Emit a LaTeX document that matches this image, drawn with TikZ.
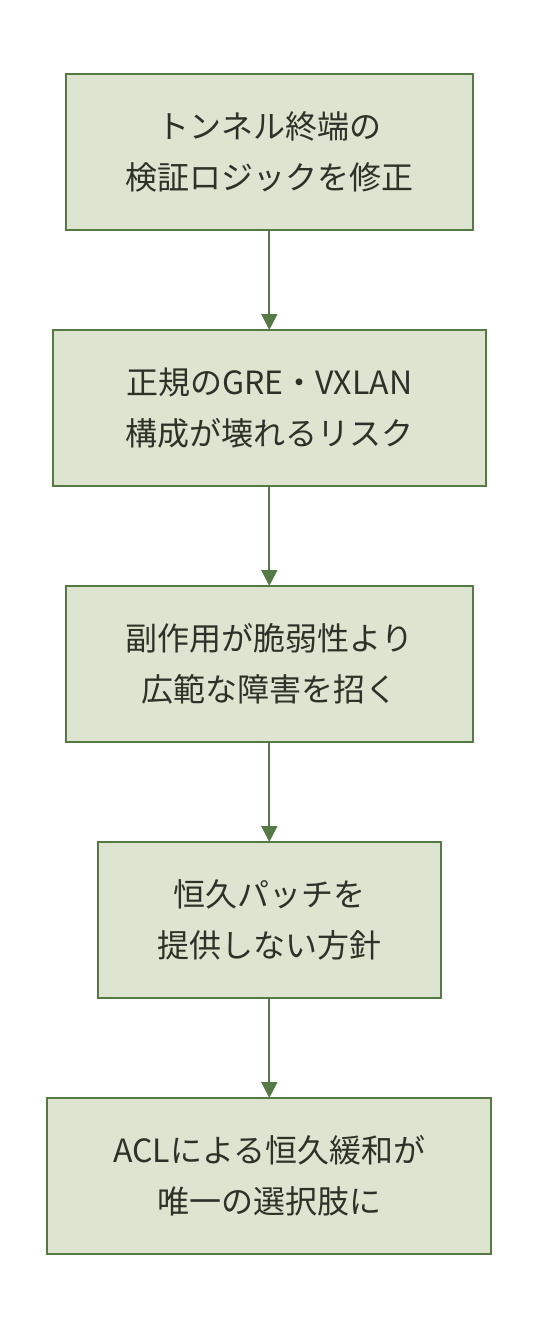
\documentclass[tikz,border=0pt]{standalone}
\usepackage{fontspec}
\setmainfont{Noto Sans CJK JP}
\usepackage{xcolor}
\definecolor{BoxFill}{RGB}{221, 229, 208}
\definecolor{BoxLine}{RGB}{85, 122, 70}
\definecolor{BoxText}{RGB}{44, 50, 40}
\usetikzlibrary{arrows.meta, positioning}

\begin{document}
\begin{tikzpicture}[
		node distance=75pt,
		base/.style={
			rectangle, draw=BoxLine, fill=BoxFill, line width=1.5pt, outer sep=0pt,
			minimum height=117pt, align=center, inner sep=6pt,
			text=BoxText, font=\fontsize{24pt}{38pt}\selectfont
		},
		arrow/.style={-{Triangle[length=12pt, width=12pt]}, line width=1.5pt, BoxLine}
		]
		\useasboundingbox (0,0) rectangle (405pt,-999pt);
		
		\node[base, minimum width=305pt] (fix) at (202pt,-114pt) {トンネル終端の\\検証ロジックを修正};
		\node[base, minimum width=325pt] (risk) [below=of fix] {正規のGRE・VXLAN\\構成が壊れるリスク};
		\node[base, minimum width=305pt] (side) [below=of risk] {副作用が脆弱性より\\広範な障害を招く};
		\node[base, minimum width=257pt] (policy) [below=of side] {恒久パッチを\\提供しない方針};
		\node[base, minimum width=333pt] (acl) [below=of policy] {ACLによる恒久緩和が\\唯一の選択肢に};
		
		\draw [arrow] (fix) -- (risk);
		\draw [arrow] (risk) -- (side);
		\draw [arrow] (side) -- (policy);
		\draw [arrow] (policy) -- (acl);
	\end{tikzpicture}
\end{document}
